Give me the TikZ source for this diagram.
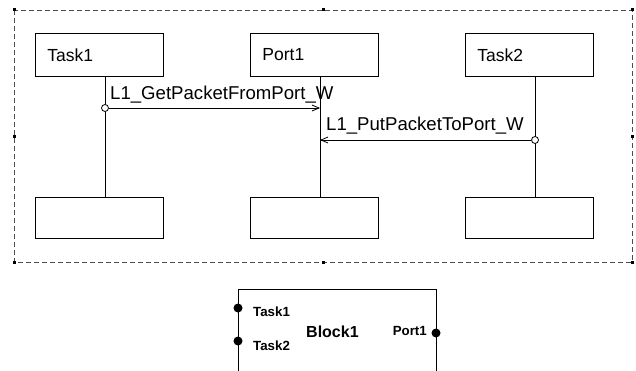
\documentclass[tikz,border=0pt]{standalone}
\usepackage{fontspec}
\setmainfont{Liberation Sans}
\usetikzlibrary{arrows.meta}
\begin{document}
\begin{tikzpicture}[x=1pt,y=-1pt,
  lbox/.style={draw=black,line width=0.9pt,minimum width=128pt,minimum height=43pt,inner xsep=12pt,text width=104pt,align=left,font=\fontsize{17.5}{20}\selectfont,anchor=north west},
  life/.style={draw=black,line width=0.8pt},
  msg/.style={draw=black,line width=0.8pt,-{Straight Barb[length=7pt,width=6pt]}},
  startc/.style={circle,draw=black,fill=white,line width=0.8pt,minimum size=7pt,inner sep=0pt},
  mlabel/.style={anchor=base west,inner sep=0pt,font=\fontsize{18.6}{20}\selectfont},
  frame/.style={draw=black!70,line width=0.9pt,dash pattern=on 5pt off 3pt},
  hdl/.style={fill=black,minimum size=3pt,inner sep=0pt},
  port/.style={circle,fill=black,minimum size=9pt,inner sep=0pt},
  plabel/.style={inner sep=0pt,font=\bfseries\fontsize{13.3}{15}\selectfont},
  blk/.style={draw=black,line width=0.9pt}]
\useasboundingbox (0,0) rectangle (636,371);
% dashed frame
\draw[frame] (14,10) rectangle (632,262);
\foreach \p/\n in {{(14,10)}/h1,{(323,10)}/h2,{(632,10)}/h3,{(14,137)}/h4,{(632,137)}/h5,{(14,262)}/h6,{(323,262)}/h7,{(632,262)}/h8}
  \node[hdl] (\n) at \p {};
% top boxes
\node[lbox] (t1) at (35,33) {Task1};
\node[lbox] (p1) at (250,33) {Port1};
\node[lbox] (t2) at (465,33) {Task2};
% bottom boxes
\node[lbox,minimum height=41pt] (t1b) at (35,197) {};
\node[lbox,minimum height=41pt] (p1b) at (250,197) {};
\node[lbox,minimum height=41pt] (t2b) at (465,197) {};
% lifelines
\draw[life] (105,76) coordinate (t1s) -- (105,197) coordinate (t1e);
\draw[life] (320,76) coordinate (p1s) -- (320,197) coordinate (p1e);
\draw[life] (535,76) coordinate (t2s) -- (535,197) coordinate (t2e);
% messages
\coordinate (m1e) at (320,108);
\coordinate (m2e) at (320,140);
\node[startc] (c1) at (105,108) {};
\node[startc] (c2) at (535,140) {};
\draw[msg] (c1) -- (m1e);
\draw[msg] (c2) -- (m2e);
\node[mlabel] (l1) at (110,100) {L1\_GetPacketFromPort\_W};
\node[mlabel] (l2) at (326,131) {L1\_PutPacketToPort\_W};
% Block1
\draw[blk] (238,371) coordinate (bl) -- (238,289) -- (436,289) -- (436,371) coordinate (br);
\node[port] (pt1) at (238,308) {};
\node[port] (pt2) at (238,341) {};
\node[port] (pp1) at (436,333) {};
\node[plabel,anchor=base west] (bt1) at (253,316) {Task1};
\node[plabel,anchor=base west] (bt2) at (253,350) {Task2};
\node[plabel,anchor=base east] (bp1) at (427,335) {Port1};
\node[inner sep=0pt,anchor=base west,font=\bfseries\fontsize{16}{18}\selectfont] (bn) at (306,337) {Block1};
\end{tikzpicture}
\end{document}
